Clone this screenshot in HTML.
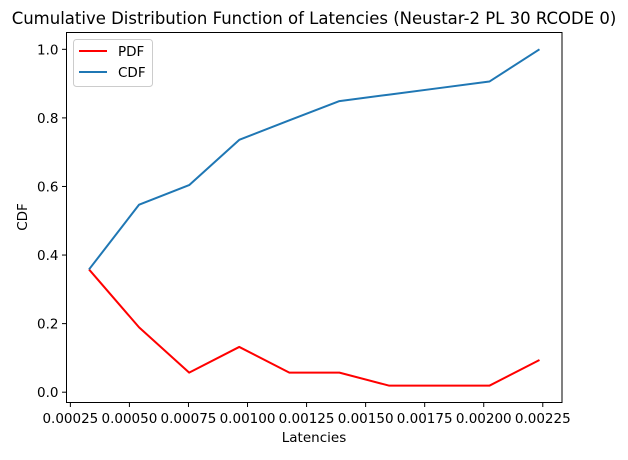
<!DOCTYPE html>
<html><head><meta charset="utf-8"><style>
body{margin:0;background:#fff;}
svg text{font-family:"DejaVu Sans","Liberation Sans",sans-serif;fill:#000;}
</style></head><body>
<svg id="chart" width="628" height="455" viewBox="0 0 628 455" xmlns="http://www.w3.org/2000/svg">
<text x="314" y="24" font-size="16.5" text-anchor="middle">Cumulative Distribution Function of Latencies (Neustar-2 PL 30 RCODE 0)</text>
<g id="xticks"></g>
<g id="yticks"></g>
<g id="series"></g>
<rect x="66.5" y="32.5" width="495.5" height="370" fill="none" stroke="#000" stroke-width="1"/>
<text x="314" y="442" font-size="13.5" text-anchor="middle">Latencies</text>
<text x="27" y="217" font-size="13.5" text-anchor="middle" transform="rotate(-90 27 217)">CDF</text>
<g>
<rect x="73.5" y="39.5" width="79" height="47" rx="3" fill="#fff" stroke="#ccc"/>
<line x1="79" y1="51" x2="107" y2="51" stroke="red" stroke-width="2"/>
<text x="118" y="56" font-size="13.5">PDF</text>
<line x1="79" y1="72" x2="107" y2="72" stroke="#1f77b4" stroke-width="2"/>
<text x="118" y="77" font-size="13.5">CDF</text>
</g>
</svg>
<script>
const latencies=[0.000329,0.000541,0.000753,0.000965,0.001177,0.001389,0.001600,0.001812,0.002024,0.002236];
const pdfValues=[0.358,0.189,0.057,0.132,0.057,0.057,0.019,0.019,0.019,0.094];
const cdfValues=[0.358,0.547,0.604,0.736,0.793,0.849,0.868,0.887,0.906,1.0];
const xTickValues=[0.00025,0.0005,0.00075,0.001,0.00125,0.0015,0.00175,0.002,0.00225];
const xTickLabels=["0.00025","0.00050","0.00075","0.00100","0.00125","0.00150","0.00175","0.00200","0.00225"];
const yTickValues=[0,0.2,0.4,0.6,0.8,1.0];
const yTickLabels=["0.0","0.2","0.4","0.6","0.8","1.0"];

const NS="http://www.w3.org/2000/svg";
const L=66.5,R=562,T=32.5,B=402.5;
const allX=latencies, allY=pdfValues.concat(cdfValues);
const xmin=Math.min(...allX),xmax=Math.max(...allX),xs=xmax-xmin;
const ymin=Math.min(...allY),ymax=Math.max(...allY),ysp=ymax-ymin;
const x0=xmin-0.05*xs,x1=xmax+0.05*xs,y0=ymin-0.05*ysp,y1=ymax+0.05*ysp;
function sx(v){return L+(v-x0)/(x1-x0)*(R-L);}
function sy(v){return B-(v-y0)/(y1-y0)*(B-T);}
function mk(tag,attrs,parent){const e=document.createElementNS(NS,tag);for(const k in attrs)e.setAttribute(k,attrs[k]);parent.appendChild(e);return e;}
const xg=document.getElementById('xticks'),yg=document.getElementById('yticks'),sg=document.getElementById('series');
xTickValues.forEach((v,i)=>{const x=sx(v);
 const t=mk('line',{x1:x,x2:x,y1:B,y2:B+4.5,stroke:'#000'},xg);
 
 
 const tx=mk('text',{x:x,y:B+20.5,'font-size':'13.5','text-anchor':'middle'},xg);tx.textContent=xTickLabels[i];
 
 
});
yTickValues.forEach((v,i)=>{const y=sy(v);
 const t=mk('line',{x1:L-4.5,x2:L,y1:y,y2:y,stroke:'#000'},yg);
 
 
 const tx=mk('text',{x:L-8,y:y+5,'font-size':'13.5','text-anchor':'end'},yg);tx.textContent=yTickLabels[i];
 
 
});
function line(vals,color,name){
 const p=mk('polyline',{points:vals.map((v,i)=>sx(latencies[i])+','+sy(v)).join(' '),fill:'none',stroke:color,'stroke-width':2,'stroke-linejoin':'round'},sg);
 
 
}
line(pdfValues,'red','pdf-line');
line(cdfValues,'#1f77b4','cdf-line');
</script>
</body></html>
